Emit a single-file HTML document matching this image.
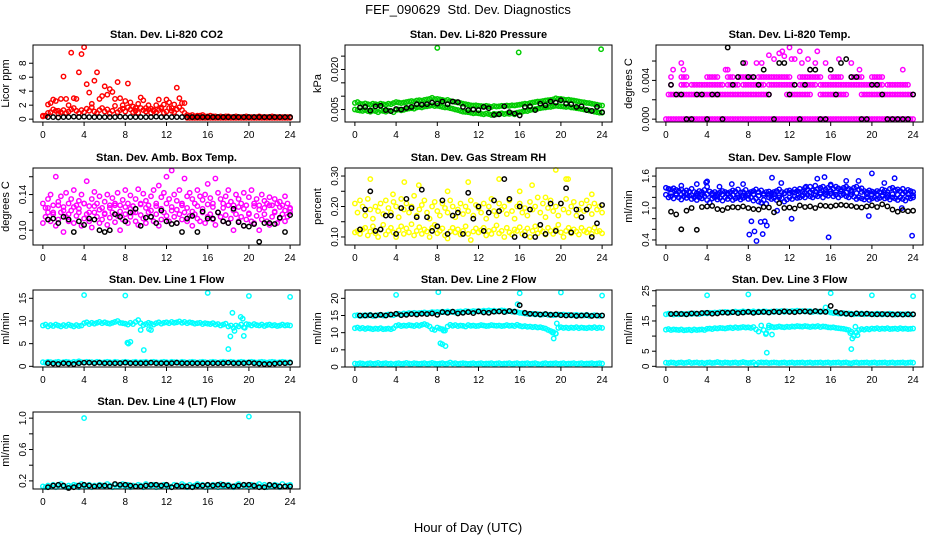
<!DOCTYPE html>
<html><head><meta charset="utf-8"><title>FEF_090629 Std. Dev. Diagnostics</title>
<style>
html,body{margin:0;padding:0;background:#fff;}
svg{display:block;font-family:"Liberation Sans",Arial,sans-serif;}
</style></head>
<body>
<svg id="chart" width="936" height="540" viewBox="0 0 936 540" xmlns="http://www.w3.org/2000/svg">
<rect x="0" y="0" width="936" height="540" fill="#fff"/>
<text x="468" y="14" font-size="13" text-anchor="middle">FEF_090629&#160; Std. Dev. Diagnostics</text>
<text x="468" y="532" font-size="13" text-anchor="middle">Hour of Day (UTC)</text>
</svg>
<script>
const tQ=[0,0.25,0.5,0.75,1,1.25,1.5,1.75,2,2.25,2.5,2.75,3,3.25,3.5,3.75,4,4.25,4.5,4.75,5,5.25,5.5,5.75,6,6.25,6.5,6.75,7,7.25,7.5,7.75,8,8.25,8.5,8.75,9,9.25,9.5,9.75,10,10.25,10.5,10.75,11,11.25,11.5,11.75,12,12.25,12.5,12.75,13,13.25,13.5,13.75,14,14.25,14.5,14.75,15,15.25,15.5,15.75,16,16.25,16.5,16.75,17,17.25,17.5,17.75,18,18.25,18.5,18.75,19,19.25,19.5,19.75,20,20.25,20.5,20.75,21,21.25,21.5,21.75,22,22.25,22.5,22.75,23,23.25,23.5,23.75,24];
const tH=[0.5,1,1.5,2,2.5,3,3.5,4,4.5,5,5.5,6,6.5,7,7.5,8,8.5,9,9.5,10,10.5,11,11.5,12,12.5,13,13.5,14,14.5,15,15.5,16,16.5,17,17.5,18,18.5,19,19.5,20,20.5,21,21.5,22,22.5,23,23.5,24];
const xTicks=[0,4,8,12,16,20,24];

// CO2
const co2A=[0.5,0.5,2.1,2.3,2.8,2.6,1.2,2.9,6.1,2.9,2.0,9.5,3.0,2.9,6.7,9.3,10.3,5.0,3.8,2.2,5.5,6.7,2.9,3.3,4.7,3.5,4.3,3.9,2.9,5.3,3.0,2.0,2.6,5.1,2.4,1.8,1.6,2.2,3.1,2.7,1.6,2.0,1.5,1.3,2.0,2.8,1.7,2.1,2.8,2.4,1.6,2.1,4.5,3.0,2.3,2.3,0.6,0.5,0.6,0.4,0.5,0.5,0.6,0.4,0.4,0.5,0.4,0.4,0.3,0.4,0.3,0.4,0.4,0.3,0.3,0.4,0.3,0.3,0.3,0.4,0.3,0.3,0.3,0.3,0.4,0.3,0.3,0.3,0.3,0.4,0.3,0.3,0.3,0.3,0.3,0.3,0.3];
const co2B=[0.4,0.5,0.9,1.0,1.4,1.2,0.8,1.0,1.3,0.9,1.1,1.4,1.6,1.2,0.9,1.3,1.0,1.5,1.2,1.7,1.1,0.9,1.3,1.6,1.1,1.4,0.8,1.2,1.9,1.0,1.3,1.5,1.1,1.7,1.4,1.0,1.2,0.9,1.6,1.3,1.1,1.4,0.9,1.2,1.0,1.3,1.5,0.9,1.1,1.6,1.2,1.0,1.4,1.7,1.3,0.9,0.2,0.2,0.2,0.2,0.2,0.2,0.2,0.2,0.2,0.2,0.2,0.2,0.2,0.2,0.2,0.2,0.2,0.2,0.2,0.2,0.2,0.2,0.2,0.2,0.2,0.2,0.2,0.2,0.2,0.2,0.2,0.2,0.2,0.2,0.2,0.2,0.2,0.2,0.2,0.2,0.2];
const co2K=[0.3,0.3,0.25,0.3,0.3,0.35,0.3,0.35,0.3,0.3,0.3,0.3,0.3,0.3,0.35,0.3,0.3,0.3,0.3,0.3,0.3,0.35,0.3,0.3,0.3,0.3,0.3,0.3,0.3,0.3,0.3,0.3,0.3,0.3,0.3,0.3,0.3,0.3,0.3,0.3,0.3,0.3,0.3,0.3,0.3,0.3,0.3,0.3];

// Pressure
const presA=[.0075,.0078,.0072,.0070,.0073,.0070,.0068,.0072,.0070,.0068,.0072,.0070,.0068,.0072,.0070,.0074,.0078,.0076,.0074,.0076,.0078,.0080,.0082,.0080,.0084,.0085,.0083,.0086,.0088,.0090,.0094,.0089,.0090,.0088,.0086,.0084,.0086,.0082,.0080,.0078,.0076,.0074,.0072,.0070,.0068,.0066,.0065,.0066,.0064,.0063,.0062,.0064,.0062,.0060,.0063,.0061,.0062,.0064,.0063,.0065,.0064,.0066,.0065,.0067,.0068,.0070,.0072,.0071,.0074,.0076,.0078,.0080,.0080,.0082,.0084,.0085,.0086,.0088,.0092,.0090,.0090,.0088,.0086,.0087,.0085,.0084,.0082,.0080,.0078,.0077,.0075,.0074,.0072,.0070,.0068,.0066,.0065];
const presB=[.0050,.0048,.0046,.0045,.0048,.0044,.0042,.0046,.0044,.0040,.0046,.0045,.0042,.0046,.0044,.0040,.0048,.0050,.0047,.0049,.0052,.0054,.0055,.0053,.0058,.0060,.0058,.0061,.0062,.0064,.0066,.0063,.0064,.0062,.0060,.0058,.0058,.0055,.0053,.0050,.0048,.0045,.0042,.0041,.0040,.0038,.0036,.0037,.0036,.0034,.0032,.0035,.0033,.0030,.0034,.0032,.0034,.0036,.0033,.0035,.0034,.0036,.0032,.0038,.0040,.0042,.0045,.0044,.0048,.0050,.0052,.0053,.0055,.0057,.0058,.0060,.0060,.0062,.0064,.0063,.0062,.0061,.0060,.0061,.0058,.0057,.0055,.0054,.0052,.0050,.0048,.0046,.0044,.0042,.0040,.0038,.0038];
const presOutX=[8,15.9,23.9];
const presOutY=[0.0281,0.0264,0.0276];
const presK=[.0058,.0060,.0046,.0062,.0064,.0048,.0044,.0052,.0050,.0056,.0060,.0070,.0068,.0070,.0076,.0072,.0080,.0070,.0080,.0078,.0060,.0048,.0050,.0048,.0060,.0055,.0030,.0032,.0062,.0040,.0035,.0028,.0060,.0062,.0048,.0072,.0066,.0080,.0076,.0085,.0072,.0070,.0060,.0062,.0048,.0045,.0060,.0040];

// Li-820 temp (discrete levels, null = no sample)
const tmp0=[0,0,0,0,0,0,0,0,0,0,0,0,0,0,0,0,0,0,0,0,0,0,0,0,0,0,0,0,0,0,0,0,0,0,0,0,0,0,0,0,0,0,0,0,0,0,0,0,0,0,0,0,0,0,0,0,0,0,0,0,0,0,0,0,0,0,0,0,0,0,0,0,0,0,0,0,0,0,0,0,0,0,0,0,0,0,0,0,0,0,0,0,0,0,0,0,0];
const tmp1=[null,.00254,.00254,.00254,.00254,.00254,.00254,.00254,.00254,.00254,.00254,.00254,.00254,.00254,.00254,.00254,.00254,.00254,.00254,.00254,.00254,.00254,.00254,.00254,.00254,.00254,.00254,.00254,.00254,.00254,.00254,.00254,.00254,.00254,.00254,.00254,.00254,.00254,.00254,.00254,.00254,null,null,null,null,null,null,.00254,.00254,.00254,.00254,.00254,.00254,.00254,.00254,.00254,.00254,null,null,null,.00254,.00254,.00254,.00254,.00254,.00254,.00254,.00254,.00254,.00254,.00254,null,null,null,null,null,.00254,.00254,.00254,.00254,.00254,.00254,.00254,.00254,.00254,.00254,.00254,.00254,.00254,.00254,.00254,.00254,.00254,.00254,.00254,.00254,.00254];
const tmp2=[null,null,.00355,null,null,null,.00355,.00355,.00355,null,.00355,.00355,.00355,.00355,.00355,.00355,.00355,.00355,.00355,.00355,.00355,.00355,.00355,null,.00355,.00355,.00355,.00355,.00355,null,.00355,.00355,.00355,.00355,.00355,.00355,.00355,.00355,.00355,null,.00355,.00355,.00355,.00355,.00355,.00355,.00355,.00355,.00355,.00355,null,null,.00355,.00355,.00355,.00355,.00355,.00355,.00355,null,.00355,.00355,.00355,.00355,.00355,.00355,.00355,.00355,.00355,.00355,.00355,.00355,.00355,.00355,.00355,.00355,.00355,.00355,.00355,.00355,.00355,.00355,.00355,.00355,.00355,null,.00355,.00355,.00355,.00355,.00355,.00355,.00355,.00355,.00355,null,null];
const tmp3=[null,null,.00435,null,null,null,.00435,.00435,.00435,null,null,null,null,null,null,null,.00435,.00435,.00435,.00435,.00435,null,null,null,.00435,.00435,.00435,null,.00435,.00435,.00435,.00435,.00435,.00435,.00435,null,.00435,.00435,.00435,.00435,.00435,.00435,.00435,.00435,.00435,.00435,.00435,.00435,.00435,null,null,null,.00435,.00435,.00435,.00435,.00435,.00435,.00435,.00435,.00435,null,null,null,.00435,.00435,.00435,.00435,.00435,null,null,null,.00435,.00435,.00435,.00435,.00435,null,null,null,.00435,.00435,.00435,.00435,.00435,null,null,null,null,null,null,null,null,null,null,null,null];
const tmpOutX=[0.7,1.5,1.7,5.8,6.0,7.7,8.8,9.3,10,10.5,11,11.3,11.5,12,12.2,12.5,13,13.2,13.8,14,14.5,14.7,15.5,16.8,18,18.8,23];
const tmpOutY=[0.0051,0.0058,0.0051,0.0051,0.0051,0.0058,0.0058,0.0058,0.0066,0.0062,0.0068,0.0070,0.0065,0.0074,0.0062,0.0062,0.0070,0.0058,0.0062,0.0051,0.0058,0.0070,0.0058,0.0062,0.0058,0.0051,0.0051];
const tmpK=[.00355,.00254,.00254,0,0,.00254,.00254,0,.00254,.00254,0,.0074,.00355,.00435,.0058,.00435,.00435,.00355,.0051,.00254,0,.0058,.0058,.00254,.00355,0,.00355,.0051,.0051,0,0,.0051,.00254,.0058,.0062,.00435,.00435,0,0,.00355,.00355,.00254,0,0,0,0,0,.00254];

// Amb box temp
const ambA=[0.13,0.125,0.135,0.14,0.128,0.16,0.132,0.138,0.126,0.142,0.13,0.135,0.145,0.128,0.133,0.14,0.13,0.155,0.127,0.135,0.143,0.13,0.138,0.125,0.132,0.14,0.128,0.136,0.13,0.142,0.128,0.134,0.145,0.13,0.139,0.127,0.135,0.146,0.13,0.141,0.133,0.128,0.138,0.145,0.13,0.15,0.137,0.142,0.16,0.135,0.167,0.14,0.133,0.145,0.13,0.158,0.138,0.142,0.135,0.13,0.145,0.138,0.134,0.14,0.152,0.136,0.13,0.158,0.142,0.135,0.13,0.138,0.145,0.132,0.128,0.14,0.135,0.13,0.142,0.128,0.137,0.145,0.13,0.135,0.128,0.14,0.133,0.13,0.137,0.128,0.135,0.13,0.132,0.128,0.138,0.13,0.125];
const ambB=[0.108,0.115,0.12,0.11,0.118,0.105,0.112,0.12,0.098,0.115,0.11,0.122,0.108,0.116,0.12,0.105,0.113,0.118,0.11,0.103,0.12,0.115,0.108,0.112,0.118,0.106,0.114,0.12,0.109,0.116,0.1,0.112,0.118,0.108,0.115,0.12,0.11,0.106,0.117,0.113,0.108,0.12,0.115,0.11,0.118,0.105,0.112,0.12,0.116,0.11,0.122,0.115,0.108,0.118,0.112,0.12,0.11,0.116,0.105,0.118,0.113,0.11,0.12,0.108,0.115,0.118,0.112,0.106,0.12,0.115,0.11,0.117,0.108,0.113,0.1,0.118,0.11,0.115,0.105,0.112,0.118,0.11,0.108,0.116,0.1,0.112,0.118,0.11,0.106,0.115,0.12,0.108,0.113,0.118,0.11,0.115,0.12];
const ambC=[0.125,0.12,0.128,0.122,0.118,0.126,0.124,0.13,0.12,0.127,0.123,0.119,0.125,0.128,0.121,0.126,0.124,0.12,0.129,0.125,0.122,0.127,0.124,0.13,0.126,0.123,0.128,0.125,0.121,0.127,0.124,0.129,0.126,0.12,0.125,0.128,0.122,0.126,0.124,0.119,0.127,0.123,0.125,0.128,0.121,0.126,0.122,0.124];
const ambK=[0.112,0.113,0.108,0.115,0.112,0.098,0.11,0.106,0.113,0.112,0.1,0.098,0.1,0.118,0.115,0.11,0.12,0.124,0.105,0.114,0.115,0.108,0.122,0.11,0.107,0.108,0.098,0.113,0.116,0.098,0.121,0.113,0.113,0.12,0.11,0.108,0.124,0.109,0.105,0.104,0.107,0.087,0.108,0.108,0.107,0.114,0.098,0.117];

// Gas stream RH
const rhA=[0.115,0.12,0.11,0.125,0.13,0.105,0.118,0.135,0.112,0.1,0.125,0.14,0.108,0.12,0.13,0.115,0.1,0.122,0.135,0.11,0.128,0.115,0.142,0.105,0.12,0.132,0.11,0.125,0.118,0.1,0.13,0.14,0.112,0.12,0.128,0.105,0.095,0.118,0.13,0.115,0.125,0.108,0.12,0.135,0.11,0.09,0.118,0.128,0.115,0.122,0.13,0.105,0.12,0.11,0.125,0.138,0.112,0.12,0.1,0.13,0.115,0.108,0.125,0.12,0.132,0.11,0.118,0.128,0.1,0.12,0.135,0.112,0.125,0.118,0.108,0.13,0.12,0.11,0.125,0.14,0.115,0.1,0.12,0.13,0.112,0.125,0.118,0.108,0.13,0.12,0.115,0.125,0.11,0.13,0.118,0.12,0.112];
const rhB=[0.21,0.18,0.22,0.2,0.17,0.225,0.19,0.16,0.2,0.185,0.21,0.175,0.22,0.195,0.18,0.215,0.2,0.165,0.225,0.19,0.21,0.18,0.2,0.235,0.17,0.19,0.205,0.22,0.18,0.16,0.2,0.215,0.185,0.17,0.21,0.195,0.18,0.22,0.2,0.165,0.19,0.21,0.175,0.2,0.185,0.22,0.17,0.205,0.195,0.18,0.21,0.16,0.2,0.225,0.185,0.17,0.21,0.19,0.2,0.175,0.22,0.185,0.16,0.2,0.21,0.18,0.195,0.17,0.215,0.19,0.2,0.23,0.18,0.21,0.165,0.195,0.22,0.185,0.2,0.17,0.21,0.19,0.225,0.18,0.2,0.215,0.17,0.19,0.21,0.185,0.22,0.2,0.175,0.21,0.19,0.2,0.18];
const rhOutX=[1.5,4.8,6.2,3.7,9,11,14,16,17.2,19.5,20.5,20.7,18.5,23];
const rhOutY=[0.29,0.28,0.27,0.24,0.25,0.28,0.29,0.25,0.27,0.32,0.29,0.29,0.23,0.24];
const rhK=[0.125,0.19,0.25,0.12,0.125,0.17,0.17,0.11,0.195,0.225,0.195,0.165,0.255,0.165,0.12,0.135,0.22,0.11,0.17,0.18,0.11,0.245,0.16,0.2,0.12,0.18,0.22,0.185,0.29,0.225,0.1,0.2,0.105,0.19,0.1,0.14,0.11,0.21,0.12,0.21,0.26,0.115,0.19,0.165,0.19,0.1,0.145,0.205];

// Sample flow
const flowA=[1.38,1.36,1.35,1.37,1.34,1.32,1.35,1.3,1.33,1.31,1.36,1.3,1.28,1.32,1.3,1.34,1.4,1.31,1.28,1.3,1.27,1.29,1.32,1.3,1.28,1.3,1.33,1.31,1.35,1.29,1.3,1.34,1.28,1.3,1.32,1.35,1.3,1.33,1.27,1.3,1.31,1.28,1.3,1.32,1.35,1.3,1.28,1.32,1.33,1.3,1.35,1.32,1.36,1.3,1.38,1.35,1.4,1.33,1.42,1.36,1.38,1.4,1.35,1.38,1.42,1.36,1.4,1.37,1.35,1.38,1.4,1.36,1.34,1.38,1.4,1.35,1.37,1.32,1.3,1.33,1.31,1.29,1.32,1.3,1.35,1.33,1.3,1.36,1.38,1.34,1.35,1.32,1.36,1.3,1.34,1.32,1.3];
const flowB=[1.25,1.2,1.22,1.18,1.24,1.2,1.16,1.22,1.19,1.23,1.17,1.2,1.15,1.2,1.18,1.22,1.15,1.1,1.18,1.2,1.16,1.19,1.14,1.2,1.17,1.21,1.15,1.18,1.2,1.16,1.19,1.22,1.17,1.2,1.14,1.18,1.12,1.1,1.15,1.08,1.2,1.17,1.19,1.15,1.2,1.18,1.12,1.16,1.2,1.17,1.22,1.19,1.2,1.23,1.2,1.25,1.22,1.2,1.24,1.22,1.26,1.2,1.25,1.23,1.27,1.22,1.25,1.2,1.24,1.26,1.22,1.2,1.25,1.21,1.17,1.2,1.18,1.16,1.2,1.15,1.18,1.2,1.17,1.19,1.22,1.18,1.2,1.16,1.2,1.18,1.15,1.2,1.17,1.14,1.2,1.18,1.2];
const flowC=[1.28,1.27,1.25,1.26,1.24,1.23,1.25,1.26,1.24,1.22,1.25,1.26,1.24,1.25,1.23,1.24,1.26,1.23,1.24,1.25,1.26,1.24,1.27,1.28,1.29,1.3,1.28,1.3,1.31,1.29,1.3,1.32,1.3,1.31,1.29,1.3,1.28,1.3,1.26,1.25,1.26,1.24,1.25,1.26,1.25,1.27,1.26,1.24];
const flowOutX=[1.5,3,3.9,5.2,7.5,8.1,8.3,8.6,8.8,9.2,9.4,9.6,9.8,10.3,11.2,12.2,14.7,15.4,15.8,16,17.5,19.7,20,21.2,22.2,23.9,4,6.4,10.8,13.6,22.9,18.7];
const flowOutY=[1.42,1.45,1.48,1.4,1.45,0.5,0.75,0.56,0.38,0.74,0.51,0.75,0.67,1.57,1.47,0.8,1.55,1.58,0.45,1.44,1.51,0.85,1.65,1.47,1.56,0.48,1.5,1.45,0.95,1.4,1.0,1.51];
const flowK=[0.93,0.88,0.6,0.95,1.0,0.59,1.02,1.03,1.04,0.98,0.96,1.0,1.02,1.01,1.03,1.0,0.98,0.97,1.02,1.01,0.92,1.09,1.0,1.01,0.99,1.05,1.02,1.03,1.0,1.05,1.04,1.03,1.05,1.06,1.05,1.04,1.02,1.01,1.03,1.05,1.02,1.07,1.03,0.97,0.93,0.96,0.94,0.95];

// Line 1 flow
const l1A=[9.0,9.2,8.8,9.1,8.9,9.2,9.0,8.8,9.1,8.9,9.2,9.0,8.8,9.1,8.9,9.0,9.5,9.7,9.3,9.6,9.4,9.6,9.8,9.5,9.7,9.5,9.4,9.6,9.8,10.0,9.6,9.5,9.4,9.2,9.6,9.3,9.8,10.2,9.5,9.1,9.3,9.6,9.4,9.2,9.5,9.7,9.4,9.6,9.7,9.5,9.8,9.6,9.7,9.9,9.6,9.8,9.5,9.7,9.6,9.4,9.5,9.6,9.3,9.5,9.4,9.3,9.5,9.2,9.3,9.0,9.2,9.4,8.8,9.0,8.5,9.0,8.8,9.2,8.6,9.3,9.2,9.0,9.3,9.1,9.0,9.2,8.9,9.1,9.2,9.0,9.1,8.9,9.0,9.2,9.0,9.1,9.0];
const l1B=[0.9,0.8,1.0,0.9,0.8,0.9,1.0,0.8,0.9,1.0,0.9,0.8,1.0,0.9,1.1,0.9,0.8,1.0,0.9,0.9,0.8,1.0,0.9,0.8,0.9,1.0,0.9,0.8,1.0,0.9,0.8,0.9,1.0,0.9,0.8,0.9,1.0,0.8,0.9,0.9,1.0,0.8,0.9,1.0,0.9,0.8,0.9,1.0,0.9,0.8,1.0,0.9,0.9,0.8,1.0,0.9,0.8,0.9,1.0,0.9,0.8,0.9,1.0,0.9,0.8,0.9,1.0,0.9,0.8,0.9,1.0,0.9,0.8,1.0,0.9,0.8,0.9,1.0,0.9,0.8,0.9,1.0,0.9,0.8,0.9,1.0,0.9,0.8,0.9,1.0,0.9,0.8,0.9,1.0,0.9,0.8,0.9];
const l1OutX=[4,8,16,20,24,8.2,8.3,8.5,9.5,9.8,18,18.2,18.4,18.6,19.2,19.4,19.5,19.6,10.3,10.5];
const l1OutY=[15.7,15.6,16.2,15.5,15.3,5.2,5.0,5.4,8.0,3.6,3.8,6.6,11.8,7.8,10.9,10.5,6.7,8.5,8.2,8.0];
const l1K=[0.7,0.6,0.5,0.7,0.6,0.5,0.7,0.8,0.8,0.7,0.8,0.7,0.7,0.7,0.7,0.8,0.7,0.7,0.7,0.7,0.8,0.7,0.7,0.7,0.7,0.8,0.7,0.7,0.7,0.7,0.7,0.7,0.7,0.7,0.7,0.8,0.7,0.7,0.7,0.8,0.7,0.6,0.5,0.5,0.6,0.7,0.7,0.8];

// Line 2 flow
const l2A=[15.0,15.1,14.9,15.0,15.1,15.0,15.2,14.9,15.0,15.1,15.2,15.0,15.1,15.3,15.2,15.1,15.4,15.5,15.3,15.6,15.5,15.7,15.6,15.8,15.6,15.7,15.8,15.9,15.7,15.8,16.0,15.9,16.0,15.9,16.1,16.0,16.2,16.0,16.1,15.9,16.1,16.2,16.0,16.3,16.2,16.1,16.3,16.2,16.3,16.2,16.4,16.3,16.5,16.3,16.4,16.2,16.3,16.5,16.4,16.2,16.3,16.1,16.2,16.0,15.8,15.7,15.6,15.5,15.4,15.5,15.3,15.4,15.2,15.3,15.4,15.2,15.3,15.1,15.2,15.3,15.2,15.3,15.1,15.2,15.0,15.1,15.2,15.0,15.1,15.0,15.2,14.9,15.0,15.1,15.0,14.9,15.0];
const l2B=[11.3,11.5,11.2,11.4,11.1,11.3,11.2,11.0,11.2,11.1,11.3,11.0,11.1,11.2,11.0,11.3,12.0,12.2,11.9,12.1,12.0,12.2,12.1,11.9,12.2,12.0,12.3,12.5,12.2,11.8,11.0,10.8,11.5,11.2,11.0,10.6,11.8,12.3,12.0,12.2,11.9,12.1,12.0,11.8,12.2,12.0,12.1,11.9,12.0,12.2,12.1,11.9,12.0,12.2,12.1,12.0,12.1,11.9,12.0,12.2,12.0,12.1,11.9,12.3,12.0,11.8,11.9,11.7,11.8,11.6,11.7,11.5,11.6,11.4,11.2,10.8,10.5,10.2,9.8,11.4,11.6,11.4,11.5,11.3,11.5,11.4,11.6,11.3,11.5,11.4,11.3,11.5,11.4,11.6,11.3,11.5,11.4];
const l2C=[1.0,0.9,1.1,1.0,0.8,1.0,1.1,0.9,1.0,1.2,0.9,1.0,1.1,0.9,1.0,0.8,1.0,1.1,0.9,1.0,1.2,1.0,0.9,1.1,1.0,0.9,1.0,1.1,0.9,1.0,1.2,1.0,0.9,1.0,1.1,0.9,1.0,1.3,1.0,1.1,0.9,1.0,1.1,1.0,0.9,1.0,1.1,0.9,1.0,1.1,0.9,1.0,1.0,1.1,0.9,1.0,1.1,0.9,1.0,1.0,1.1,0.9,1.0,1.1,0.9,1.0,1.0,1.1,0.9,1.0,1.1,0.9,0.8,1.0,1.1,0.9,1.0,1.0,1.1,0.9,1.0,1.1,0.9,1.0,1.0,1.1,0.9,1.0,1.1,0.9,1.0,1.0,1.1,0.9,1.0,1.1,1.0];
const l2OutX=[4,8.1,16,20,24,8.3,8.5,8.8,15.8,19.3,19.5,19.6,19.2,8.6];
const l2OutY=[21,21.8,21.5,21.7,20.8,6.9,6.6,6.1,18.3,8.3,9.7,12.7,10,10.6];
const l2K=[15.0,15.0,15.1,15.0,15.2,15.0,15.3,15.5,15.1,15.2,15.4,15.3,15.5,15.4,15.6,15.2,16.0,15.8,16.1,15.6,15.8,16.0,15.7,16.2,15.9,15.8,16.1,16.2,16.0,16.3,16.1,18.0,15.8,15.5,15.4,15.3,15.4,15.2,15.3,15.1,15.0,15.1,14.9,15.0,15.1,14.9,15.0,15.0];

// Line 3 flow
const l3A=[17.2,17.4,17.3,17.1,17.3,17.2,17.4,17.3,17.2,17.4,17.3,17.5,17.4,17.3,17.5,17.6,17.5,17.7,17.6,17.8,17.7,17.9,17.8,18.0,17.9,17.8,18.0,18.1,17.9,18.0,18.2,18.0,18.1,18.0,18.2,17.9,18.1,18.0,18.2,18.1,17.9,18.1,18.0,18.2,18.1,18.3,18.0,18.2,18.1,18.3,18.2,18.4,18.2,18.3,18.1,18.2,18.3,18.0,18.2,18.1,18.0,18.2,19.5,18.1,17.8,17.6,17.7,17.5,17.4,17.6,17.3,17.5,17.4,17.2,17.4,17.3,17.5,17.2,17.4,17.3,17.3,17.2,17.4,17.3,17.1,17.3,17.2,17.4,17.3,17.1,17.2,17.3,17.1,17.2,17.3,17.1,17.2];
const l3B=[12.1,12.3,12.0,12.2,12.1,12.0,12.2,11.9,12.0,12.1,11.9,12.2,12.0,12.1,12.2,12.0,12.4,12.5,12.3,12.6,12.5,12.7,12.6,12.5,12.7,12.8,12.6,12.9,12.7,12.8,13.0,12.8,12.9,12.7,13.0,12.2,11.5,13.5,12.0,11.0,12.8,13.1,12.9,13.0,13.2,13.0,12.9,13.1,13.0,13.2,13.1,13.3,13.2,13.1,13.3,13.2,13.0,13.2,13.1,13.3,13.0,13.2,13.1,12.9,12.8,12.9,12.7,12.6,12.5,12.4,12.2,12.0,11.5,10.0,11.2,12.0,12.3,12.1,12.4,12.2,12.5,12.4,12.6,12.3,12.5,12.4,12.6,12.3,12.4,12.5,12.3,12.6,12.4,12.5,12.3,12.4,12.5];
const l3C=[1.2,1.1,1.3,1.2,1.0,1.2,1.3,1.1,1.2,1.4,1.1,1.2,1.3,1.1,1.2,1.0,1.2,1.3,1.1,1.2,1.4,1.2,1.1,1.3,1.2,1.1,1.2,1.3,1.1,1.2,1.4,1.2,1.1,1.2,1.3,0.6,1.2,1.3,1.2,1.3,1.1,1.2,1.3,1.2,1.1,1.2,1.3,1.1,1.2,1.3,1.1,1.2,1.2,1.3,1.1,1.2,1.3,1.1,1.2,1.2,1.3,1.1,1.2,1.3,1.1,1.2,1.2,1.3,1.1,1.2,1.3,1.1,1.0,1.2,1.3,1.1,1.2,1.2,1.3,1.1,1.2,1.3,1.1,1.2,1.2,1.3,1.1,1.2,1.3,1.1,1.2,1.2,1.3,1.1,1.2,1.3,1.2];
const l3OutX=[4,8,16,20,24,9.7,9.8,18,18.1,18.4,18.6,10.3,10,17.9];
const l3OutY=[23.5,23.8,24.2,23.5,23.2,10.7,4.5,5.7,9.2,13.1,10.3,10.5,13.5,11];
const l3K=[17.3,17.4,17.3,17.2,17.5,17.4,17.6,17.7,17.4,17.5,17.8,17.7,17.9,17.6,17.8,18.0,17.7,17.9,18.0,17.8,18.1,17.9,18.2,18.0,17.9,18.1,18.2,18.0,18.3,18.1,18.0,20.0,18.0,17.6,17.4,17.2,17.5,17.3,17.4,17.2,17.2,17.3,17.2,17.1,17.2,17.1,17.2,17.2];

// Line 4 flow
const l4A=[0.13,0.12,0.14,0.13,0.15,0.12,0.14,0.16,0.13,0.12,0.14,0.13,0.15,0.14,0.12,0.16,0.14,0.13,0.15,0.12,0.14,0.13,0.15,0.14,0.13,0.16,0.14,0.12,0.15,0.13,0.14,0.16,0.13,0.15,0.12,0.14,0.13,0.15,0.14,0.12,0.16,0.13,0.14,0.15,0.12,0.14,0.13,0.15,0.14,0.13,0.12,0.15,0.14,0.13,0.16,0.14,0.12,0.15,0.13,0.14,0.16,0.13,0.15,0.12,0.14,0.13,0.15,0.14,0.12,0.16,0.13,0.14,0.15,0.13,0.12,0.14,0.16,0.13,0.15,0.14,0.12,0.15,0.13,0.14,0.16,0.13,0.15,0.12,0.14,0.13,0.15,0.14,0.12,0.16,0.13,0.14,0.15];
const l4OutX=[4,20];
const l4OutY=[1.0,1.02];
const l4K=[0.12,0.14,0.15,0.14,0.11,0.12,0.14,0.15,0.14,0.13,0.14,0.14,0.13,0.16,0.15,0.15,0.14,0.13,0.13,0.14,0.15,0.15,0.14,0.15,0.12,0.14,0.13,0.13,0.12,0.14,0.14,0.15,0.14,0.15,0.15,0.14,0.13,0.14,0.15,0.15,0.14,0.12,0.12,0.15,0.14,0.13,0.13,0.13];

const COLS=[33,345,656], ROWS=[45,168,290,412], BW=267, BH=77;
const panels=[
 {name:'co2',title:'Stan. Dev. Li-820 CO2',ylab:'Licor ppm',c:0,r:0,lo:0,hi:10.2,ticks:[0,2,4,6,8],labels:['0','2','4','6','8'],
  series:[[tQ,co2B,'#ff0000'],[tQ,co2A,'#ff0000'],[tH,co2K,'#000']]},
 {name:'pressure',title:'Stan. Dev. Li-820 Pressure',ylab:'kPa',c:1,r:0,lo:0.0014,hi:0.0281,ticks:[0.005,0.01,0.015,0.02,0.025],labels:['0.005','','','0.020',''],
  series:[[tQ,presA,'#00cc00'],[tQ,presB,'#00cc00'],[presOutX,presOutY,'#00cc00'],[tH,presK,'#000']]},
 {name:'li820-temp',title:'Stan. Dev. Li-820 Temp.',ylab:'degrees C',c:2,r:0,lo:0,hi:0.00736,ticks:[0,0.002,0.004,0.006],labels:['0.000','','0.004',''],
  series:[[tQ,tmp0,'#ff00ff'],[tQ,tmp1,'#ff00ff'],[tQ,tmp2,'#ff00ff'],[tQ,tmp3,'#ff00ff'],[tmpOutX,tmpOutY,'#ff00ff'],[tH,tmpK,'#000']]},
 {name:'amb-box-temp',title:'Stan. Dev. Amb. Box Temp.',ylab:'degrees C',c:0,r:1,lo:0.0866,hi:0.1666,ticks:[0.10,0.12,0.14,0.16],labels:['0.10','','0.14',''],
  series:[[tQ,ambA,'#ff00ff'],[tQ,ambB,'#ff00ff'],[tH,ambC,'#ff00ff'],[tH,ambK,'#000']]},
 {name:'gas-stream-rh',title:'Stan. Dev. Gas Stream RH',ylab:'percent',c:1,r:1,lo:0.083,hi:0.317,ticks:[0.10,0.15,0.20,0.25,0.30],labels:['0.10','','0.20','','0.30'],
  series:[[tQ,rhA,'#ffff00'],[tQ,rhB,'#ffff00'],[rhOutX,rhOutY,'#ffff00'],[tH,rhK,'#000']]},
 {name:'sample-flow',title:'Stan. Dev. Sample Flow',ylab:'ml/min',c:2,r:1,lo:0.359,hi:1.698,ticks:[0.4,0.6,0.8,1.0,1.2,1.4,1.6],labels:['0.4','','','1.0','','','1.6'],
  series:[[tQ,flowA,'#0000ff'],[tQ,flowB,'#0000ff'],[tH,flowC,'#0000ff'],[flowOutX,flowOutY,'#0000ff'],[tH,flowK,'#000']]},
 {name:'line1-flow',title:'Stan. Dev. Line 1 Flow',ylab:'ml/min',c:0,r:2,lo:0.48,hi:16.2,ticks:[0,5,10,15],labels:['0','5','10','15'],
  series:[[tQ,l1A,'#00ffff'],[tQ,l1B,'#00ffff'],[l1OutX,l1OutY,'#00ffff'],[tH,l1K,'#000']]},
 {name:'line2-flow',title:'Stan. Dev. Line 2 Flow',ylab:'ml/min',c:1,r:2,lo:0.83,hi:21.6,ticks:[0,5,10,15,20],labels:['0','5','10','15','20'],
  series:[[tQ,l2A,'#00ffff'],[tQ,l2B,'#00ffff'],[tQ,l2C,'#00ffff'],[l2OutX,l2OutY,'#00ffff'],[tH,l2K,'#000']]},
 {name:'line3-flow',title:'Stan. Dev. Line 3 Flow',ylab:'ml/min',c:2,r:2,lo:0.72,hi:24.3,ticks:[0,5,10,15,20,25],labels:['0','5','','15','','25'],
  series:[[tQ,l3A,'#00ffff'],[tQ,l3B,'#00ffff'],[tQ,l3C,'#00ffff'],[l3OutX,l3OutY,'#00ffff'],[tH,l3K,'#000']]},
 {name:'line4-flow',title:'Stan. Dev. Line 4 (LT) Flow',ylab:'ml/min',c:0,r:3,lo:0.133,hi:1.042,ticks:[0.2,0.4,0.6,0.8,1.0],labels:['0.2','','0.6','','1.0'],
  series:[[tQ,l4A,'#00ffff'],[l4OutX,l4OutY,'#00ffff'],[tH,l4K,'#000']]}
];

const svg=document.getElementById('chart');
const NS='http://www.w3.org/2000/svg';
function mk(tag,attrs,parent){const e=document.createElementNS(NS,tag);for(const k in attrs)e.setAttribute(k,attrs[k]);parent.appendChild(e);return e;}

panels.forEach(p=>{
  const bx=COLS[p.c], by=ROWS[p.r];
  const ix0=bx+BW*0.04/1.08, iw=BW/1.08;
  const iy0=by+BH-BH*0.04/1.08, ih=BH/1.08;
  const sx=t=>ix0+t/24*iw;
  const sy=v=>iy0-(v-p.lo)/(p.hi-p.lo)*ih;
  const g=mk('g',{},svg);
  
  
  const tt=mk('text',{x:bx+BW/2,y:by-7,'font-size':11,'font-weight':'bold','text-anchor':'middle'},g);
  tt.textContent=p.title;
  
  
  const yl=mk('text',{x:0,y:0,'font-size':11,'text-anchor':'middle',transform:`translate(${bx-24},${by+BH/2}) rotate(-90)`},g);
  yl.textContent=p.ylab;
  
  
  const pts=mk('g',{fill:'none','stroke-width':1.45},g);
  
  
  p.series.forEach(([xs,ys,col],si)=>{
    const sg=mk('g',{stroke:col},pts);
    
    
    const n=Math.min(xs.length,ys.length);
    for(let i=0;i<n;i++){
      if(ys[i]===null||ys[i]===undefined)continue;
      const c=mk('circle',{cx:sx(xs[i]).toFixed(1),cy:sy(ys[i]).toFixed(1),r:2.2},sg);
      
      
    }
  });
  const box=mk('rect',{x:bx,y:by,width:BW,height:BH,fill:'none',stroke:'#000','stroke-width':1},g);
  
  
  const xa=mk('g',{stroke:'#000','stroke-width':1},g);
  
  
  const yb=by+BH;
  mk('line',{x1:sx(0),y1:yb,x2:sx(24),y2:yb},xa);
  xTicks.forEach(t=>{
    mk('line',{x1:sx(t),y1:yb,x2:sx(t),y2:yb+4},xa);
    const tx=mk('text',{x:sx(t),y:yb+16,'font-size':10,'text-anchor':'middle',stroke:'none',fill:'#000'},xa);
    tx.textContent=String(t);
    
    
  });
  const ya=mk('g',{stroke:'#000','stroke-width':1},g);
  
  
  mk('line',{x1:bx,y1:sy(p.ticks[0]),x2:bx,y2:sy(p.ticks[p.ticks.length-1])},ya);
  p.ticks.forEach((v,i)=>{
    const y=sy(v);
    mk('line',{x1:bx-4,y1:y,x2:bx,y2:y},ya);
    if(p.labels[i]){
      const tx=mk('text',{x:0,y:0,'font-size':10,'text-anchor':'middle',stroke:'none',fill:'#000',transform:`translate(${bx-7},${y}) rotate(-90)`},ya);
      tx.textContent=p.labels[i];
      
      
    }
  });
});
</script>
</body></html>
